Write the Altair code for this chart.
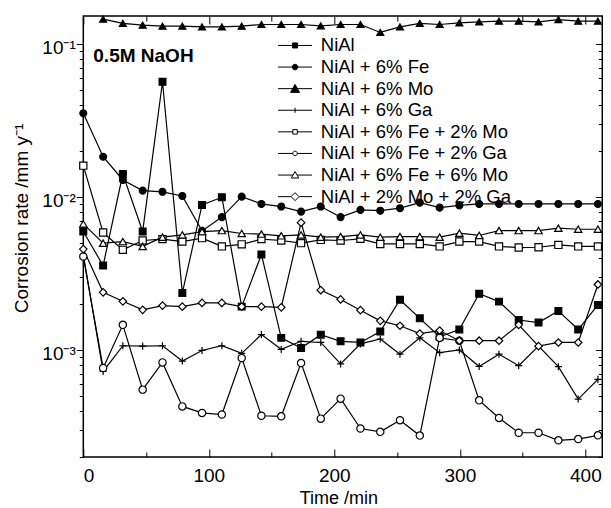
import altair as alt
import pandas as pd

# ---------------- data ----------------
time_min = [0, 15.8, 31.5, 47.3, 63.1, 78.9, 94.6, 110.4, 126.2, 141.9, 157.7,
            173.5, 189.2, 205.0, 220.8, 236.6, 252.3, 268.1, 283.9, 299.6,
            315.4, 331.2, 346.9, 362.7, 378.5, 394.3, 410.0]

series_names = ["NiAl", "NiAl + 6% Fe", "NiAl + 6% Mo", "NiAl + 6% Ga",
                "NiAl + 6% Fe + 2% Mo", "NiAl + 6% Fe + 2% Ga",
                "NiAl + 6% Fe + 6% Mo", "NiAl + 2% Mo + 2% Ga"]

nial = [5.94e-3, 3.56e-3, 1.41e-2, 5.94e-3, 5.65e-2, 2.36e-3, 8.87e-3, 9.95e-3,
        1.92e-3, 4.21e-3, 1.20e-3, 1.03e-3, 1.26e-3, 1.14e-3, 1.12e-3, 1.32e-3,
        2.13e-3, 1.61e-3, 1.22e-3, 1.36e-3, 2.33e-3, 2.07e-3, 1.57e-3, 1.51e-3,
        1.80e-3, 1.36e-3, 1.97e-3]
nial_fe6 = [3.52e-2, 1.83e-2, 1.29e-2, 1.10e-2, 1.08e-2, 1.015e-2, 6.0e-3, 7.38e-3,
            1.004e-2, 9.0e-3, 8.65e-3, 8.02e-3, 8.65e-3, 7.38e-3, 8.23e-3, 8.13e-3,
            8.44e-3, 9.18e-3, 8.51e-3, 8.80e-3, 9.0e-3, 9.0e-3, 9.0e-3, 9.0e-3,
            9.0e-3, 9.0e-3, 9.0e-3]
nial_mo6 = [None, 0.145, 0.136, 0.1325, 0.1305, 0.1305, 0.129, 0.129, 0.1305,
            0.1338, 0.1338, 0.1338, 0.131, 0.1338, 0.1338, 0.1187, 0.129, 0.136,
            0.1338, 0.137, 0.139, 0.1407, 0.1407, 0.139, 0.144, 0.1407, 0.1407]
nial_ga6 = [4.19e-3, 7.24e-4, 1.066e-3, 1.06e-3, 1.066e-3, 8.47e-4, 9.93e-4, 1.066e-3,
            9.5e-4, 1.26e-3, 1.01e-3, 1.14e-3, 1.12e-3, 8.11e-4, 1.096e-3, 1.18e-3,
            9.39e-4, 1.2e-3, 9.6e-4, 1.0e-3, 7.81e-4, 9.39e-4, 7.9e-4, 1.06e-3,
            7.78e-4, 4.78e-4, 6.43e-4]
nial_fe6_mo2 = [1.60e-2, 5.85e-3, 4.51e-3, 5.19e-3, 5.30e-3, 5.11e-3, 5.38e-3, 4.75e-3,
                4.90e-3, 5.30e-3, 5.19e-3, 4.99e-3, 5.24e-3, 5.19e-3, 5.32e-3, 4.93e-3,
                4.93e-3, 4.93e-3, 4.75e-3, 5.11e-3, 5.11e-3, 4.75e-3, 4.67e-3, 4.69e-3,
                4.86e-3, 4.75e-3, 4.75e-3]
nial_fe6_ga2 = [4.08e-3, 7.63e-4, 1.46e-3, 5.51e-4, 8.3e-4, 4.28e-4, 3.88e-4, 3.79e-4,
                8.87e-4, 3.72e-4, 3.69e-4, 8.22e-4, 3.56e-4, 4.81e-4, 3.07e-4, 2.92e-4,
                3.48e-4, 2.76e-4, 1.20e-3, 1.15e-3, 4.69e-4, 3.60e-4, 2.88e-4, 2.88e-4,
                2.57e-4, 2.62e-4, 2.77e-4]
nial_fe6_mo6 = [6.67e-3, 4.99e-3, 5.11e-3, 4.75e-3, 5.46e-3, 5.65e-3, 5.94e-3, 6.03e-3,
                5.77e-3, 5.72e-3, 5.57e-3, 5.65e-3, 5.46e-3, 5.51e-3, 5.65e-3, 5.46e-3,
                5.51e-3, 5.51e-3, 5.46e-3, 5.80e-3, 5.60e-3, 6.03e-3, 6.03e-3, 6.03e-3,
                6.25e-3, 6.15e-3, 6.15e-3]
nial_mo2_ga2 = [4.56e-3, 2.38e-3, 2.08e-3, 1.83e-3, 1.95e-3, 1.92e-3, 2.03e-3, 2.03e-3,
                1.92e-3, 1.92e-3, 1.90e-3, 6.79e-3, 2.46e-3, 2.14e-3, 1.82e-3, 1.55e-3,
                1.44e-3, 1.28e-3, 1.34e-3, 1.15e-3, 1.15e-3, 1.15e-3, 1.46e-3, 1.06e-3,
                1.12e-3, 1.12e-3, 2.68e-3]

all_values = [nial, nial_fe6, nial_mo6, nial_ga6, nial_fe6_mo2, nial_fe6_ga2,
              nial_fe6_mo6, nial_mo2_ga2]

x_major = [0, 100, 200, 300, 400]
x_minor = [50, 150, 250, 350]
y_major = [0.001, 0.01, 0.1]
y_minor = [0.0002, 0.0003, 0.0004, 0.0005, 0.0006, 0.0007, 0.0008, 0.0009,
           0.002, 0.003, 0.004, 0.005, 0.006, 0.007, 0.008, 0.009,
           0.02, 0.03, 0.04, 0.05, 0.06, 0.07, 0.08, 0.09]

rows = []
for name, vals in zip(series_names, all_values):
    for t, v in zip(time_min, vals):
        if v is not None:
            rows.append({"series": name, "time": t, "rate": v})
df = pd.DataFrame(rows)

# ---------------- styles ----------------
FONT = "Liberation Sans"
PLUS = "M-1,0H1M0,-1V1"
plot_shapes = ["square", "circle", "triangle-up", PLUS, "square", "circle",
               "triangle-up", "diamond"]
plot_fills = ["black", "black", "black", "transparent", "white", "white", "white", "white"]
plot_sizes = [46, 56, 100, 81, 34, 40, 88, 96]

legend_paths = [
    "M-3.4,0H-0.5M0.5,0H3.4M-0.5,-0.5H0.5V0.5H-0.5Z",
    "M-3.4,0H-0.55M0.55,0H3.4M0.55,0A0.55,0.55,0,1,1,-0.55,0A0.55,0.55,0,1,1,0.55,0Z",
    "M-3.4,0H3.4M0,-0.85L0.9,0.75L-0.9,0.75Z",
    "M-3.4,0H3.4M0,-0.5V0.5",
    "M-3.4,0H-0.45M0.45,0H3.4M-0.45,-0.45H0.45V0.45H-0.45Z",
    "M-3.4,0H-0.45M0.45,0H3.4M0.45,0A0.45,0.45,0,1,1,-0.45,0A0.45,0.45,0,1,1,0.45,0Z",
    "M-3.4,0H-0.4M0.4,0H3.4M0,-0.7L0.75,0.6L-0.75,0.6Z",
    "M-3.4,0H-0.8M0.8,0H3.4M0,-0.8L0.8,0L0,0.8L-0.8,0Z",
]
legend_strokes = ["black"] * 8

xscale = alt.Scale(domain=[0, 413.5], nice=False, zero=False)
yscale = alt.Scale(type="log", domain=[2e-4, 0.152], nice=False)


def tick_axis(orient, values, size):
    return alt.Axis(orient=orient, values=values, tickSize={"expr": str(size)},
                    labels=False, domain=False, grid=False, title=None,
                    tickColor="black", tickWidth=1)


base = alt.Chart(df)
empty = base.transform_filter("datum.rate < 0")

lines = base.mark_line(color="black", strokeWidth=1.2).encode(
    x=alt.X("time:Q", scale=xscale,
            axis=alt.Axis(orient="bottom", values=x_major, ticks=False, tickSize=0,
                          domain=False, grid=False, labelPadding=9,
                          labelFont=FONT, labelFontSize=19, labelColor="black",
                          title="Time /min", titleFont=FONT, titleFontSize=18,
                          titleFontWeight="normal", titleColor="black",
                          titleX=255, titleY=46.5, titleBaseline="alphabetic")),
    y=alt.Y("rate:Q", scale=yscale,
            axis=alt.Axis(orient="left", values=y_major, tickSize=7, tickColor="black",
                          domain=False, grid=False, labelPadding=1,
                          labelFont=FONT, labelFontSize=19, labelColor="black",
                          labelOffset=3.5,
                          labelExpr="'10' + (datum.value < 0.005 ? '⁻³' : (datum.value < 0.05 ? '⁻²' : '⁻¹'))",
                          title="Corrosion rate /mm y⁻¹", titleFont=FONT, titleFontSize=19,
                          titleFontWeight="normal", titleColor="black",
                          titleX=-56.3, titleY=202, titleBaseline="alphabetic")),
    detail="series:N",
    order="time:Q",
)

points = base.mark_point(filled=False, opacity=1, stroke="black", strokeWidth=1.2).encode(
    x=alt.X("time:Q", scale=xscale, axis=None),
    y=alt.Y("rate:Q", scale=yscale, axis=None),
    shape=alt.Shape("series:N", scale=alt.Scale(domain=series_names, range=plot_shapes), legend=None),
    fill=alt.Fill("series:N", scale=alt.Scale(domain=series_names, range=plot_fills), legend=None),
    size=alt.Size("series:N", scale=alt.Scale(domain=series_names, range=plot_sizes), legend=None),
)

ticks_a = empty.mark_point().encode(
    x=alt.X("time:Q", scale=xscale, axis=tick_axis("bottom", x_major, -8)),
    y=alt.Y("rate:Q", scale=yscale,
            axis=alt.Axis(orient="left", values=y_minor, tickSize=4, labels=False,
                          domain=False, grid=False, title=None, tickColor="black")),
)
ticks_b = empty.mark_point().encode(
    x=alt.X("time:Q", scale=xscale, axis=tick_axis("bottom", x_minor, -5)),
    y=alt.Y("rate:Q", scale=yscale, axis=tick_axis("right", y_major, -7)),
)
ticks_c = empty.mark_point().encode(
    x=alt.X("time:Q", scale=xscale, axis=tick_axis("top", x_major, -8)),
    y=alt.Y("rate:Q", scale=yscale, axis=tick_axis("right", y_minor, -4)),
)

leg = alt.Legend(title=None, orient="none", legendX=198.5, legendY=20.2,
                 symbolSize=100, symbolStrokeWidth=1, symbolStrokeColor="black",
                 symbolOffset=4, labelOffset=16.5, labelFont=FONT, labelFontSize=18.5,
                 labelColor="black", labelLimit=500, rowPadding=2.6, padding=0,
                 symbolOpacity=1)

legend_layer = empty.mark_point(filled=False, opacity=1, stroke="black", strokeWidth=1).encode(
    x=alt.X("time:Q", scale=xscale, axis=tick_axis("top", x_minor, -5)),
    y=alt.Y("rate:Q", scale=yscale, axis=None),
    shape=alt.Shape("series:N", scale=alt.Scale(domain=series_names, range=legend_paths), legend=leg),
    fill=alt.Fill("series:N", scale=alt.Scale(domain=series_names, range=plot_fills), legend=leg),
    stroke=alt.Stroke("series:N", scale=alt.Scale(domain=series_names, range=legend_strokes), legend=leg),
)

note = alt.Chart(pd.DataFrame({"label": ["0.5M NaOH"]})).mark_text(
    align="left", baseline="alphabetic", font=FONT, fontSize=19, fontWeight="bold",
    color="black").encode(text="label:N", x=alt.value(10), y=alt.value(45.7))

chart = alt.layer(lines, points, ticks_a, ticks_b, ticks_c, legend_layer, note).resolve_scale(
    shape="independent", fill="independent", size="independent", stroke="independent"
).resolve_axis(x="independent", y="independent").properties(
    width=519, height=441,
    autosize=alt.AutoSizeParams(type="none"),
    padding={"left": 75.3, "top": 8, "right": 0.7, "bottom": 51},
).configure_view(stroke="black", strokeWidth=1.5)

chart.save("out.html", embed_options={"renderer": "svg", "actions": False})
